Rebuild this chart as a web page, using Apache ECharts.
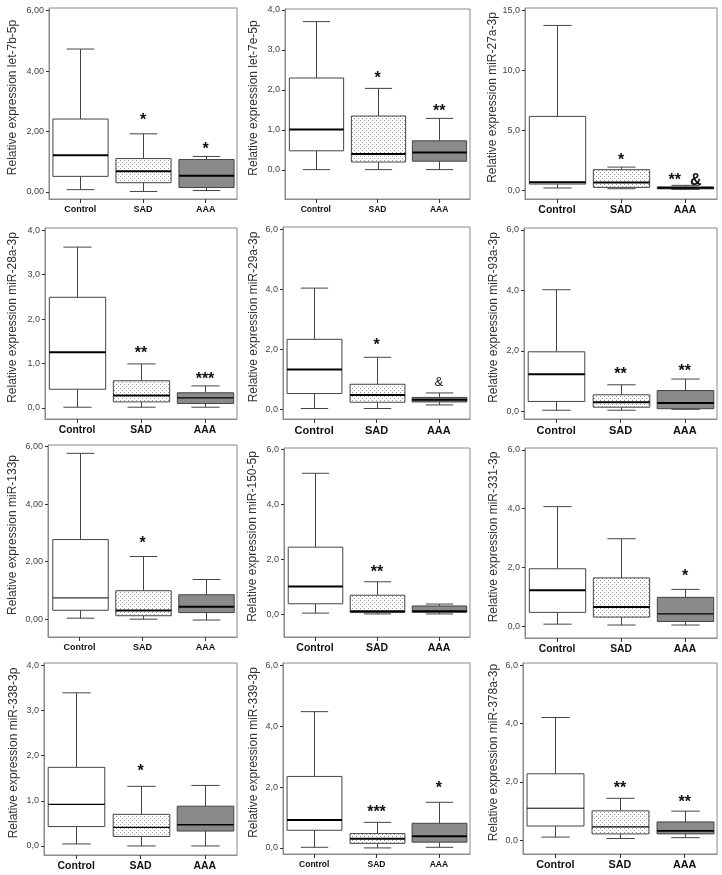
<!DOCTYPE html>
<html><head><meta charset="utf-8">
<script src="https://cdn.jsdelivr.net/npm/echarts@6/dist/echarts.min.js"></script>
<style>html,body{margin:0;padding:0;background:#fff}#c{width:722px;height:875px}</style>
</head><body><div id="c"></div>
<script>
// ---------- data ----------
const groups = ['Control', 'SAD', 'AAA'];
const genes = ['let-7b-5p','let-7e-5p','miR-27a-3p','miR-28a-3p','miR-29a-3p','miR-93a-3p',
               'miR-133p','miR-150-5p','miR-331-3p','miR-338-3p','miR-339-3p','miR-378a-3p'];
// each group: [lower whisker, Q1, median, Q3, upper whisker]
const let7b5p  = [[0.07,0.51,1.21,2.41,4.73],[0.01,0.30,0.68,1.10,1.92],[0.04,0.14,0.53,1.07,1.17]];
const let7e5p  = [[0.01,0.48,1.01,2.30,3.71],[0.01,0.20,0.40,1.35,2.04],[0.01,0.22,0.44,0.73,1.29]];
const miR27a3p = [[0.17,0.50,0.65,6.16,13.77],[0.11,0.22,0.64,1.70,1.92],[0.05,0.10,0.20,0.25,0.39]];
const miR28a3p = [[0.015,0.42,1.25,2.49,3.62],[0.015,0.135,0.28,0.61,0.99],[0.015,0.10,0.225,0.34,0.495]];
const miR29a3p = [[0.03,0.53,1.33,2.34,4.05],[0.03,0.24,0.48,0.84,1.74],[0.15,0.25,0.32,0.40,0.55]];
const miR93a3p = [[0.04,0.33,1.23,1.97,4.02],[0.04,0.14,0.30,0.55,0.88],[0.07,0.09,0.28,0.69,1.07]];
const miR133p  = [[0.035,0.31,0.74,2.77,5.77],[0.0,0.12,0.30,0.99,2.18],[-0.03,0.23,0.43,0.85,1.38]];
const miR1505p = [[0.05,0.39,1.02,2.45,5.14],[0.02,0.07,0.12,0.70,1.19],[0.02,0.08,0.12,0.31,0.38]];
const miR3313p = [[0.08,0.48,1.23,1.96,4.07],[0.05,0.32,0.66,1.65,2.98],[0.05,0.17,0.43,0.99,1.26]];
const miR3383p = [[0.045,0.43,0.92,1.74,3.39],[0.0,0.21,0.41,0.70,1.32],[0.0,0.33,0.47,0.88,1.34]];
const miR3393p = [[0.02,0.58,0.92,2.35,4.48],[0.0,0.15,0.30,0.47,0.84],[0.02,0.19,0.38,0.81,1.50]];
const miR378a3p= [[0.11,0.49,1.10,2.28,4.21],[0.06,0.22,0.46,1.01,1.44],[0.09,0.22,0.32,0.63,1.00]];
const boxes = [let7b5p,let7e5p,miR27a3p,miR28a3p,miR29a3p,miR93a3p,miR133p,miR1505p,miR3313p,miR3383p,miR3393p,miR378a3p];

// significance marks: [group, value, text]
const marks = [
  [['SAD',2.48,'*'],['AAA',1.53,'*']],
  [['SAD',2.38,'*'],['AAA',1.57,'**']],
  [['SAD',2.8,'*'],['AAA',1.14,'**  &']],
  [['SAD',1.31,'**'],['AAA',0.73,'***']],
  [['SAD',2.27,'*'],['AAA',0.9,'&']],
  [['SAD',1.34,'**'],['AAA',1.45,'**']],
  [['SAD',2.77,'*']],
  [['SAD',1.66,'**']],
  [['AAA',1.83,'*']],
  [['SAD',1.74,'*']],
  [['SAD',1.29,'***'],['AAA',2.08,'*']],
  [['SAD',1.91,'**'],['AAA',1.44,'**']]
];

// y axis: ticks, decimals of tick labels, range
const yTicks = [[0,2,4,6],[0,1,2,3,4],[0,5,10,15],[0,1,2,3,4],[0,2,4,6],[0,2,4,6],
                [0,2,4,6],[0,2,4,6],[0,2,4,6],[0,1,2,3,4],[0,2,4,6],[0,2,4,6]];
const yDecimals = [2,1,1,1,1,1,2,1,1,1,1,1];
const yMin = [-0.24,-0.725,-0.75,-0.25,-0.32,-0.25,-0.62,-0.82,-0.39,-0.2,-0.2,-0.47];
const yMax = [6.09,4.025,15.23,4.05,6.09,6.06,6.06,6.06,6.06,4.05,6.08,6.08];

// ---------- layout / style ----------
const frames = [ // left, top, width, height
  [49,8,188,191],[285,9,185,190],[525,8,192,191],
  [45,228,192,191],[283,227,187,192],[524,228,193,191],
  [48,445,189,192],[284,448,186,189],[525,448,192,190],
  [44,663,193,192],[283,663,187,191],[523,663,194,191]
];
const nameGaps = [30,25,25,26,23,24,29,25,25,24,23,23];
const catFont = [9,8.5,10.5,10.3,11,11,9,10.5,10.3,10.5,8.5,10.8];
const medW = [[2,2,2],[2,2,2],[2,2,2],[2,2,1.3],[2,2,2],[2,2,2],
              [1,2,2],[2,2,2],[2,2,1.3],[1.2,1.3,1.3],[2,2,2],[1,1.3,1.8]];

const FRAME = '#8a8a8a', LINE = '#444';
const pat = document.createElement('canvas');
pat.width = 4; pat.height = 4;
(function(){ const g = pat.getContext('2d'); g.fillStyle='#fff'; g.fillRect(0,0,4,4);
  g.fillStyle='#9a9a9a'; g.fillRect(0,0,1,1); g.fillRect(2,2,1,1); })();
const fills = ['#ffffff', {image: pat, repeat: 'repeat'}, '#8a8a8a'];

const grid = [], xAxis = [], yAxis = [], series = [];
frames.forEach((f, i) => {
  grid.push({left:f[0], top:f[1], width:f[2], height:f[3], show:true, borderColor:FRAME, borderWidth:1, backgroundColor:'#fff'});
  xAxis.push({type:'category', gridIndex:i, data:groups, position:'bottom',
    axisLine:{show:true, onZero:false, lineStyle:{color:FRAME}},
    axisTick:{show:true, alignWithLabel:true, length:4, lineStyle:{color:'#333'}},
    axisLabel:{color:'#111', fontWeight:'bold', fontSize:catFont[i], fontFamily:'Liberation Sans, Arial', margin:6}});
  const d = yDecimals[i];
  yAxis.push({type:'value', gridIndex:i, min:yMin[i], max:yMax[i],
    name:'Relative expression ' + genes[i], nameLocation:'middle', nameGap:nameGaps[i],
    nameTextStyle:{fontSize:12, color:'#333', fontFamily:'Liberation Sans, Arial', padding:[0,0,0,12]},
    splitLine:{show:false},
    axisLine:{show:true, onZero:false, lineStyle:{color:FRAME}},
    axisTick:{show:true, length:3, customValues:yTicks[i], lineStyle:{color:'#333'}},
    axisLabel:{customValues:yTicks[i], color:'#444', fontSize:9, fontFamily:'Liberation Sans, Arial', margin:5,
      formatter: v => v.toFixed(d).replace('.', ',')}});
  const bdata = boxes[i].map((b, k) => [k].concat(b));
  const mw = medW[i];
  series.push({type:'custom', xAxisIndex:i, yAxisIndex:i, data:bdata, silent:true, clip:false,
    renderItem:(params, api) => {
      const k = api.value(0);
      const lo = api.coord([k, api.value(1)]), q1 = api.coord([k, api.value(2)]),
            me = api.coord([k, api.value(3)]), q3 = api.coord([k, api.value(4)]),
            hi = api.coord([k, api.value(5)]);
      const bw = api.size([1, 0])[0] * 0.88, cw = bw / 2, cx = Math.round(lo[0]) + 0.5;
      const ls = {stroke: LINE, lineWidth: 1};
      return {type:'group', children:[
        {type:'line', shape:{x1:cx, y1:hi[1], x2:cx, y2:q3[1]}, style:ls},
        {type:'line', shape:{x1:cx, y1:q1[1], x2:cx, y2:lo[1]}, style:ls},
        {type:'line', shape:{x1:cx-cw/2, y1:hi[1], x2:cx+cw/2, y2:hi[1]}, style:ls},
        {type:'line', shape:{x1:cx-cw/2, y1:lo[1], x2:cx+cw/2, y2:lo[1]}, style:ls},
        {type:'rect', shape:{x:cx-bw/2, y:q3[1], width:bw, height:q1[1]-q3[1]},
          style:{fill: fills[k], stroke: LINE, lineWidth: 1}},
        {type:'line', shape:{x1:cx-bw/2, y1:me[1], x2:cx+bw/2, y2:me[1]},
          style:{stroke:'#000', lineWidth: mw[k]}}
      ]};
    }});
  const m = marks[i];
  series.push({type:'custom', xAxisIndex:i, yAxisIndex:i, silent:true, clip:false,
    data: m.map(a => [groups.indexOf(a[0]), a[1]]),
    renderItem:(params, api) => {
      const p = api.coord([api.value(0), api.value(1)]);
      const t = m[params.dataIndex][2];
      const isAmp = t === '&';
      return {type:'text', x:p[0], y:p[1] + (isAmp ? 0 : 4),
        style:{text:t, fill:'#111', font: isAmp ? '13px Liberation Sans' : 'bold 16px Liberation Sans',
          align:'center', verticalAlign:'middle', textAlign:'center', textVerticalAlign:'middle'}};
    }});
});

const chart = echarts.init(document.getElementById('c'), null, {renderer:'canvas'});
chart.setOption({animation:false, backgroundColor:'#fff', grid, xAxis, yAxis, series});
</script>
</body></html>
